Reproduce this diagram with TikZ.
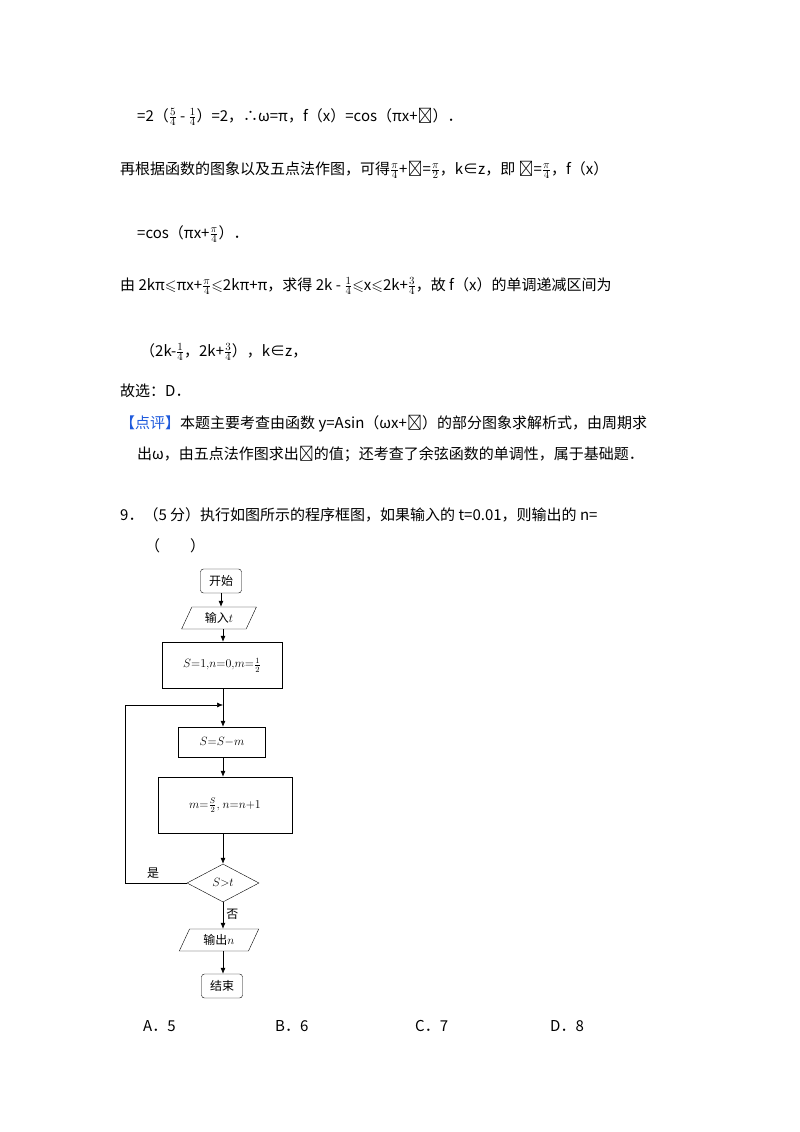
\documentclass[tikz,border=0pt]{standalone}
\usepackage{amssymb}
\usepackage{fontspec}
\setmainfont{Noto Sans CJK SC}
\usetikzlibrary{shapes.geometric,arrows.meta}
\begin{document}
\begin{tikzpicture}[x=1pt,y=-1pt,
  txt/.style={anchor=base west,inner sep=0pt,font=\fontsize{15}{18}\selectfont},
  fc/.style={font=\fontsize{12}{14}\selectfont,inner sep=1pt},
  box/.style={draw,fc,minimum height=#1},
  rbox/.style={draw,rounded corners=3pt,fc,minimum width=41pt,minimum height=24pt},
  io/.style={draw,trapezium,trapezium left angle=65,trapezium right angle=115,fc,minimum height=22pt,inner xsep=2pt},
  arr/.style={-{Latex[length=6pt,width=5pt]},line width=0.6pt}]
\useasboundingbox (0,0) rectangle (800,1132);
\newcommand{\fr}[2]{$\frac{#1}{#2}$}
\node[txt] (l1) at (137,121) {=2（\fr{5}{4} - \fr{1}{4}）=2，∴ω=π，f（x）=cos（πx+ϕ）．};
\node[txt] (l2) at (120,174) {再根据函数的图象以及五点法作图，可得\fr{\pi}{4}+ϕ=\fr{\pi}{2}，k∈z，即 ϕ=\fr{\pi}{4}，f（x）};
\node[txt] (l3) at (137,238) {=cos（πx+\fr{\pi}{4}）．};
\node[txt] (l4) at (120,290) {由 2kπ$\leqslant$πx+\fr{\pi}{4}$\leqslant$2kπ+π，求得 2k - \fr{1}{4}$\leqslant$x$\leqslant$2k+\fr{3}{4}，故 f（x）的单调递减区间为};
\node[txt] (l5) at (140,356) {（2k-\fr{1}{4}，2k+\fr{3}{4}），k∈z，};
\node[txt] (l6) at (120,396) {故选：D．};
\node[txt] (l7) at (120,428) {\textcolor[RGB]{30,90,220}{【点评】}本题主要考查由函数 y=Asin（ωx+ϕ）的部分图象求解析式，由周期求};
\node[txt] (l8) at (137,459) {出ω，由五点法作图求出ϕ的值；还考查了余弦函数的单调性，属于基础题．};
\node[txt] (l9) at (120,520) {9．（5 分）执行如图所示的程序框图，如果输入的 t=0.01，则输出的 n=};
\node[txt] (l10) at (145,551) {（　　）};
\node[txt] (oa) at (143,1031) {A．5};
\node[txt] (ob) at (275,1031) {B．6};
\node[txt] (oc) at (415,1031) {C．7};
\node[txt] (od) at (550,1031) {D．8};
% flowchart
\node[rbox] (start) at (221,581) {开始};
\node[io,minimum width=48pt] (in) at (219,618) {输入$t$};
\node[box=46pt,minimum width=120pt] (init) at (222,665) {$S{=}1{,}n{=}0{,}m{=}\frac{1}{2}$};
\coordinate (j) at (223,705);
\node[box=30pt,minimum width=87pt] (s1) at (222,742) {$S{=}S{-}m$};
\node[box=56pt,minimum width=134pt] (s2) at (225,805) {$m{=}\frac{S}{2}{,}\ n{=}n{+}1$};
\node[draw,diamond,aspect=1.9,fc,minimum width=72pt,minimum height=38pt,inner sep=0pt] (d) at (223,883) {$S{>}t$};
\node[io,minimum width=50pt] (out) at (219,940) {输出$n$};
\node[rbox] (end) at (222,986) {结束};
\coordinate (lc) at (125,883);
\coordinate (lt) at (125,705);
\draw[arr] (start) -- (start|-in.north);
\draw[arr] (in.south-|j) -- (init.north-|j);
\draw[line width=0.6pt] (init.south-|j) -- (j);
\draw[arr] (j) -- (s1.north-|j);
\draw[arr] (s1.south-|j) -- (s2.north-|j);
\draw[arr] (s2.south-|d) -- (d.north);
\draw[arr] (d.south) -- (out.north-|d) node[pos=0.45,right,fc,xshift=2pt] (no) {否};
\draw[arr] (out.south-|d) -- (end.north-|d);
\draw[arr] (d.west) -- (lc) -- (lt) -- (j);
\node[fc] (yes) at (153,873) {是};
\end{tikzpicture}
\end{document}
